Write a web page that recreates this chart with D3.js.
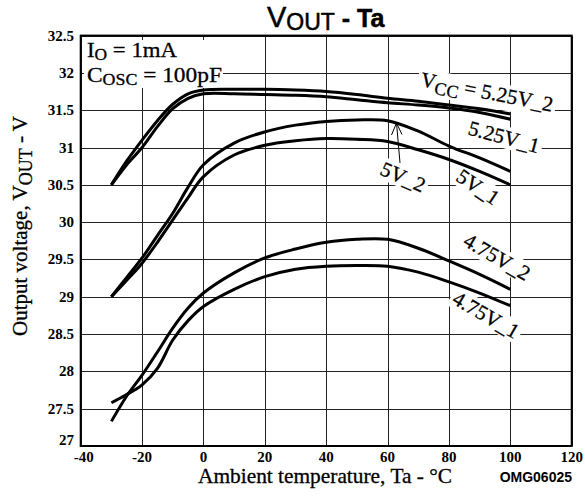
<!DOCTYPE html>
<html>

<head>
    <title>vout-ta</title>
    <style>
    body {
        margin: 0;
        background: #fff;
    }

    svg.chart {
        width: 585px;
        height: 502px;
        display: block;
    }

    line.grid {
        stroke: #222;
        stroke-width: 1;
        shape-rendering: crispEdges;
    }

    path.curve {
        fill: none;
        stroke: #000;
        stroke-width: 3;
    }

    text.tick {
        font-family: "Liberation Serif", serif;
        font-weight: bold;
        font-size: 15px;
    }

    text.lbl {
        font-family: "Liberation Serif", serif;
        font-size: 21px;
        stroke: #000;
        stroke-width: 0.3;
    }
    </style>
</head>

<body>
    <svg id="chart" class="chart"></svg>
    <script src="https://d3js.org/d3.v7.min.js"></script>
    <script>
    // temperatures the curves were read at
    let temps = [-30, -25, -20, -15, -10, -5, 0, 10, 20, 30, 40, 50, 60, 70, 80, 90, 100];

    let v525_2 = [30.5, 30.82, 31.1, 31.36, 31.58, 31.72, 31.77, 31.78, 31.78, 31.77, 31.75, 31.71, 31.66, 31.62, 31.57, 31.52, 31.45];
    let v525_1 = [30.5, 30.77, 31.0, 31.28, 31.52, 31.66, 31.72, 31.72, 31.71, 31.70, 31.68, 31.64, 31.60, 31.57, 31.53, 31.47, 31.38];
    let v5_2 = [29.0, 29.26, 29.52, 29.82, 30.12, 30.47, 30.77, 31.06, 31.21, 31.3, 31.35, 31.37, 31.36, 31.22, 31.02, 30.86, 30.68];
    let v5_1 = [29.0, 29.22, 29.45, 29.73, 30.03, 30.33, 30.61, 30.9, 31.03, 31.09, 31.12, 31.11, 31.08, 30.97, 30.84, 30.68, 30.5];
    let v475_2 = [27.33, 27.67, 27.95, 28.26, 28.58, 28.85, 29.05, 29.32, 29.52, 29.64, 29.73, 29.77, 29.77, 29.65, 29.48, 29.3, 29.1];
    let v475_1 = [27.58, 27.69, 27.82, 28.04, 28.42, 28.68, 28.87, 29.1, 29.27, 29.37, 29.41, 29.42, 29.41, 29.33, 29.2, 29.05, 28.88];

    let xTicks = [-40, -20, 0, 20, 40, 60, 80, 100, 120];
    let yTicks = [27, 27.5, 28, 28.5, 29, 29.5, 30, 30.5, 31, 31.5, 32, 32.5];

    let svg = d3.select('svg#chart');

    let x_scale = d3.scaleLinear()
        .domain([-40, 120])
        .range([80.7, 571.7]);
    let y_scale = d3.scaleLinear()
        .domain([27, 32.5])
        .range([446, 35.6]);

    // grid
    svg.append('g').selectAll('line.v')
        .data(xTicks)
        .enter()
        .append('line')
        .classed('grid', true)
        .attr('x1', d => Math.round(x_scale(d)) + 0.5)
        .attr('x2', d => Math.round(x_scale(d)) + 0.5)
        .attr('y1', y_scale(32.5))
        .attr('y2', y_scale(27));
    svg.append('g').selectAll('line.h')
        .data(yTicks)
        .enter()
        .append('line')
        .classed('grid', true)
        .attr('x1', x_scale(-40))
        .attr('x2', x_scale(120))
        .attr('y1', d => Math.round(y_scale(d)) + 0.5)
        .attr('y2', d => Math.round(y_scale(d)) + 0.5);

    // frame
    svg.append('rect')
        .attr('x', x_scale(-40))
        .attr('y', y_scale(32.5))
        .attr('width', x_scale(120) - x_scale(-40))
        .attr('height', y_scale(27) - y_scale(32.5))
        .attr('fill', 'none')
        .attr('stroke', '#000')
        .attr('stroke-width', 2);

    // tick labels
    svg.append('g').selectAll('text')
        .data(yTicks)
        .enter()
        .append('text')
        .classed('tick', true)
        .attr('text-anchor', 'end')
        .attr('x', 74)
        .attr('y', d => y_scale(d) + (d == 27 ? -1 : 5))
        .text(d => d);
    svg.append('g').selectAll('text')
        .data(xTicks)
        .enter()
        .append('text')
        .classed('tick', true)
        .attr('text-anchor', 'middle')
        .attr('x', d => x_scale(d) + (d == -40 ? 3 : 0))
        .attr('y', 462)
        .text(d => d);

    // labels on a white patch that cuts the grid
    let patchLabel = function(cx, cy, angle, build) {
        let g = svg.append('g')
            .attr('transform', 'translate(' + cx + ',' + cy + ') rotate(' + angle + ')');
        let rect = g.append('rect').attr('fill', '#fff');
        let t = g.append('text').classed('lbl', true).attr('text-anchor', 'middle').attr('y', 7);
        build(t);
        let b = t.node().getBBox();
        rect.attr('x', b.x - 3).attr('y', b.y + 1).attr('width', b.width + 6).attr('height', b.height - 2);
        return g;
    }

    // conditions box
    {
        let g = svg.append('g');
        let rect = g.append('rect').attr('fill', '#fff');
        let t1 = g.append('text').classed('lbl', true)
            .attr('font-size', 19)
            .attr('x', 87).attr('y', 57)
            .attr('textLength', 90).attr('lengthAdjust', 'spacingAndGlyphs');
        t1.append('tspan').text('I');
        t1.append('tspan').attr('dy', 3).attr('font-size', 16).text('O');
        t1.append('tspan').attr('dy', -3).text(' = 1mA');
        let t2 = g.append('text').classed('lbl', true)
            .attr('font-size', 19)
            .attr('x', 87).attr('y', 82)
            .attr('textLength', 135).attr('lengthAdjust', 'spacingAndGlyphs');
        t2.append('tspan').text('C');
        t2.append('tspan').attr('dy', 3).attr('font-size', 16).text('OSC');
        t2.append('tspan').attr('dy', -3).text(' = 100pF');
        let b = g.node().getBBox();
        rect.attr('x', b.x - 3).attr('y', b.y + 2).attr('width', b.width + 4).attr('height', b.height - 2);
    }

    patchLabel(487, 92, 11, function(t) {
        t.append('tspan').text('V');
        t.append('tspan').attr('dy', 5).attr('font-size', 18).text('CC');
        t.append('tspan').attr('dy', -5).text(' = 5.25V_2');
    });
    patchLabel(504, 137, 15, t => t.text('5.25V_1'));
    patchLabel(403, 177, 24, t => t.text('5V_2'));
    patchLabel(478, 187, 34, t => t.text('5V_1'));
    patchLabel(497, 257, 30, t => t.text('4.75V_2'));
    patchLabel(486, 315, 30, t => t.text('4.75V_1'));

    // arrow pointing 5V_2 at its curve
    svg.append('line')
        .attr('x1', 400).attr('y1', 163)
        .attr('x2', 396.5).attr('y2', 123)
        .attr('stroke', '#000').attr('stroke-width', 1);
    svg.append('path')
        .attr('d', 'M391.5,135 L396.5,123 L402,134.5')
        .attr('fill', 'none').attr('stroke', '#000').attr('stroke-width', 1);

    // curves
    let curve = d3.line()
        .curve(d3.curveCatmullRom.alpha(0.5))
        .x(function(d) { return x_scale(d[0]) })
        .y(function(d) { return y_scale(d[1]) });

    let series = [v525_2, v525_1, v5_2, v5_1, v475_2, v475_1];
    svg.append('g').selectAll('path')
        .data(series)
        .enter()
        .append('path')
        .classed('curve', true)
        .attr('d', s => curve(temps.map((t, i) => [t, s[i]])));

    // title
    {
        let t = svg.append('text')
            .attr('x', 267).attr('y', 27)
            .attr('font-family', '"Liberation Sans", Arial, sans-serif')
            .attr('stroke', '#000').attr('stroke-width', 0.5);
        t.append('tspan').attr('font-size', 29).text('V');
        t.append('tspan').attr('font-size', 23).attr('dy', 3).text('OUT');
        t.append('tspan').attr('font-size', 25).attr('dy', -3).attr('font-weight', 'bold').text(' - Ta');
    }

    // axis titles
    {
        let t = svg.append('text')
            .classed('lbl', true)
            .attr('text-anchor', 'middle')
            .attr('transform', 'translate(27,226) rotate(-90)');
        t.append('tspan').text('Output voltage, V');
        t.append('tspan').attr('dy', 5).attr('font-size', 18).text('OUT');
        t.append('tspan').attr('dy', -5).text(' - V');
    }
    svg.append('text')
        .classed('lbl', true)
        .attr('font-size', 18)
        .attr('x', 198).attr('y', 483)
        .attr('textLength', 254)
        .attr('lengthAdjust', 'spacingAndGlyphs')
        .text('Ambient temperature, Ta - °C');
    svg.append('text')
        .attr('font-family', '"Liberation Sans", Arial, sans-serif')
        .attr('font-weight', 'bold')
        .attr('font-size', 14)
        .attr('text-anchor', 'end')
        .attr('x', 572).attr('y', 482)
        .text('OMG06025');
    </script>
</body>

</html>
